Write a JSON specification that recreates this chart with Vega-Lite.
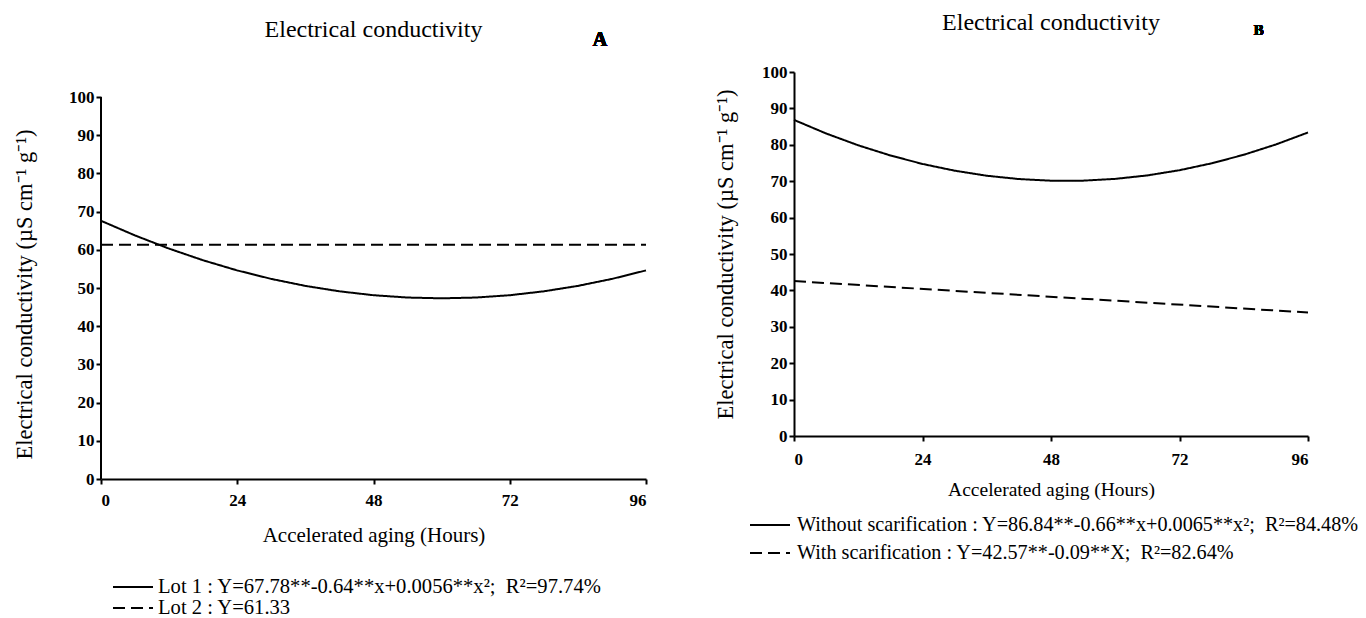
{
  "$schema": "https://vega.github.io/schema/vega-lite/v6.json",
  "padding": {"left": 13, "top": 11, "right": 3, "bottom": 0},
  "spacing": 64,
  "background": "white",
  "resolve": {"scale": {"strokeDash": "independent"}, "legend": {"strokeDash": "independent"}},
  "config": {
    "font": "Liberation Serif",
    "view": {"stroke": null},
    "axis": {
      "domainColor": "black", "domainWidth": 2, "tickColor": "black", "tickWidth": 2, "tickSize": 5,
      "grid": false, "labelFont": "Liberation Serif", "labelFontWeight": "bold", "labelFontSize": 17,
      "labelColor": "black", "labelOverlap": false, "titleFont": "Liberation Serif", "titleFontWeight": "normal",
      "titleFontSize": 21, "titleColor": "black"
    },
    "title": {"font": "Liberation Serif", "fontWeight": "normal", "fontSize": 24, "color": "black", "anchor": "middle"},
    "legend": {
      "symbolType": "stroke", "symbolSize": 1600, "symbolStrokeWidth": 2, "symbolStrokeColor": "black",
      "labelFont": "Liberation Serif", "labelFontSize": 20.6, "labelColor": "black", "labelLimit": 1200,
      "labelOffset": 4, "direction": "vertical", "rowPadding": 0
    }
  },
  "hconcat": [
    {
      "width": 545, "height": 407,
      "title": {"text": "Electrical conductivity", "offset": 0, "dy": 12},
      "resolve": {"scale": {"strokeDash": "independent"}, "legend": {"strokeDash": "independent"}},
      "data": {"values": [
        {"h": 0, "ec": 67.6, "series": "Lot 1 : Y=67.78**-0.64**x+0.0056**x²; \u00a0R²=97.74%"},
        {"h": 6, "ec": 63.75, "series": "Lot 1 : Y=67.78**-0.64**x+0.0056**x²; \u00a0R²=97.74%"},
        {"h": 12, "ec": 60.3, "series": "Lot 1 : Y=67.78**-0.64**x+0.0056**x²; \u00a0R²=97.74%"},
        {"h": 18, "ec": 57.25, "series": "Lot 1 : Y=67.78**-0.64**x+0.0056**x²; \u00a0R²=97.74%"},
        {"h": 24, "ec": 54.6, "series": "Lot 1 : Y=67.78**-0.64**x+0.0056**x²; \u00a0R²=97.74%"},
        {"h": 30, "ec": 52.38, "series": "Lot 1 : Y=67.78**-0.64**x+0.0056**x²; \u00a0R²=97.74%"},
        {"h": 36, "ec": 50.55, "series": "Lot 1 : Y=67.78**-0.64**x+0.0056**x²; \u00a0R²=97.74%"},
        {"h": 42, "ec": 49.13, "series": "Lot 1 : Y=67.78**-0.64**x+0.0056**x²; \u00a0R²=97.74%"},
        {"h": 48, "ec": 48.11, "series": "Lot 1 : Y=67.78**-0.64**x+0.0056**x²; \u00a0R²=97.74%"},
        {"h": 54, "ec": 47.5, "series": "Lot 1 : Y=67.78**-0.64**x+0.0056**x²; \u00a0R²=97.74%"},
        {"h": 60, "ec": 47.3, "series": "Lot 1 : Y=67.78**-0.64**x+0.0056**x²; \u00a0R²=97.74%"},
        {"h": 66, "ec": 47.5, "series": "Lot 1 : Y=67.78**-0.64**x+0.0056**x²; \u00a0R²=97.74%"},
        {"h": 72, "ec": 48.11, "series": "Lot 1 : Y=67.78**-0.64**x+0.0056**x²; \u00a0R²=97.74%"},
        {"h": 78, "ec": 49.13, "series": "Lot 1 : Y=67.78**-0.64**x+0.0056**x²; \u00a0R²=97.74%"},
        {"h": 84, "ec": 50.55, "series": "Lot 1 : Y=67.78**-0.64**x+0.0056**x²; \u00a0R²=97.74%"},
        {"h": 90, "ec": 52.38, "series": "Lot 1 : Y=67.78**-0.64**x+0.0056**x²; \u00a0R²=97.74%"},
        {"h": 96, "ec": 54.6, "series": "Lot 1 : Y=67.78**-0.64**x+0.0056**x²; \u00a0R²=97.74%"},
        {"h": 0, "ec": 61.33, "series": "Lot 2 : Y=61.33"},
        {"h": 96, "ec": 61.33, "series": "Lot 2 : Y=61.33"}
      ]},
      "layer": [
        {
          "transform": [{"filter": {"field": "series", "equal": "Lot 1 : Y=67.78**-0.64**x+0.0056**x²; \u00a0R²=97.74%"}}],
          "mark": {"type": "line", "color": "black", "strokeWidth": 2},
          "encoding": {
            "x": {"field": "h", "type": "quantitative", "scale": {"domain": [0, 96], "nice": false},
              "axis": {"values": [0, 24, 48, 72, 96], "title": "Accelerated aging (Hours)", "labelPadding": 8, "titlePadding": 16}},
            "y": {"field": "ec", "type": "quantitative", "scale": {"domain": [0, 106.545], "nice": false},
              "axis": {"values": [0, 10, 20, 30, 40, 50, 60, 70, 80, 90, 100], "domain": false, "title": "Electrical conductivity (µS cm⁻¹ g⁻¹)", "titleFontSize": 22.5, "titlePadding": 32, "titleY": 222}},
            "strokeDash": {"field": "series", "type": "nominal",
              "scale": {"range": [[1, 0]]},
              "legend": {"orient": "none", "legendX": 11, "legendY": 494, "title": null}}
          }
        },
        {
          "transform": [{"filter": {"field": "series", "equal": "Lot 2 : Y=61.33"}}],
          "mark": {"type": "line", "color": "black", "strokeWidth": 2},
          "encoding": {
            "x": {"field": "h", "type": "quantitative"},
            "y": {"field": "ec", "type": "quantitative",
              "axis": {"values": [0, 10, 20, 30, 40, 50, 60, 70, 80, 90, 100], "domain": false, "title": "Electrical conductivity (µS cm⁻¹ g⁻¹)", "titleFontSize": 22.5, "titlePadding": 32, "titleY": 222}},
            "strokeDash": {"field": "series", "type": "nominal",
              "scale": {"range": [[12, 6]]},
              "legend": {"orient": "none", "legendX": 11, "legendY": 515, "title": null}}
          }
        },
        {
          "mark": {"type": "rule", "color": "black", "strokeWidth": 2},
          "encoding": {"x": {"datum": 0}, "y": {"datum": 0}, "y2": {"datum": 100}}
        },
        {
          "mark": {"type": "text", "text": "A", "fontWeight": "bold", "fontSize": 20, "font": "Liberation Serif", "color": "black"},
          "encoding": {"x": {"datum": 87.9}, "y": {"datum": 114.9}}
        }
      ]
    },
    {
      "width": 514, "height": 364,
      "title": {"text": "Electrical conductivity", "offset": 0, "dy": 12},
      "resolve": {"scale": {"strokeDash": "independent"}, "legend": {"strokeDash": "independent"}},
      "data": {"values": [
        {"h": 0, "ec": 86.84, "series": "Without scarification : Y=86.84**-0.66**x+0.0065**x²; \u00a0R²=84.48%"},
        {"h": 6, "ec": 83.11, "series": "Without scarification : Y=86.84**-0.66**x+0.0065**x²; \u00a0R²=84.48%"},
        {"h": 12, "ec": 79.86, "series": "Without scarification : Y=86.84**-0.66**x+0.0065**x²; \u00a0R²=84.48%"},
        {"h": 18, "ec": 77.07, "series": "Without scarification : Y=86.84**-0.66**x+0.0065**x²; \u00a0R²=84.48%"},
        {"h": 24, "ec": 74.74, "series": "Without scarification : Y=86.84**-0.66**x+0.0065**x²; \u00a0R²=84.48%"},
        {"h": 30, "ec": 72.89, "series": "Without scarification : Y=86.84**-0.66**x+0.0065**x²; \u00a0R²=84.48%"},
        {"h": 36, "ec": 71.5, "series": "Without scarification : Y=86.84**-0.66**x+0.0065**x²; \u00a0R²=84.48%"},
        {"h": 42, "ec": 70.59, "series": "Without scarification : Y=86.84**-0.66**x+0.0065**x²; \u00a0R²=84.48%"},
        {"h": 48, "ec": 70.14, "series": "Without scarification : Y=86.84**-0.66**x+0.0065**x²; \u00a0R²=84.48%"},
        {"h": 54, "ec": 70.15, "series": "Without scarification : Y=86.84**-0.66**x+0.0065**x²; \u00a0R²=84.48%"},
        {"h": 60, "ec": 70.64, "series": "Without scarification : Y=86.84**-0.66**x+0.0065**x²; \u00a0R²=84.48%"},
        {"h": 66, "ec": 71.59, "series": "Without scarification : Y=86.84**-0.66**x+0.0065**x²; \u00a0R²=84.48%"},
        {"h": 72, "ec": 73.02, "series": "Without scarification : Y=86.84**-0.66**x+0.0065**x²; \u00a0R²=84.48%"},
        {"h": 78, "ec": 74.91, "series": "Without scarification : Y=86.84**-0.66**x+0.0065**x²; \u00a0R²=84.48%"},
        {"h": 84, "ec": 77.26, "series": "Without scarification : Y=86.84**-0.66**x+0.0065**x²; \u00a0R²=84.48%"},
        {"h": 90, "ec": 80.09, "series": "Without scarification : Y=86.84**-0.66**x+0.0065**x²; \u00a0R²=84.48%"},
        {"h": 96, "ec": 83.38, "series": "Without scarification : Y=86.84**-0.66**x+0.0065**x²; \u00a0R²=84.48%"},
        {"h": 0, "ec": 42.57, "series": "With scarification : Y=42.57**-0.09**X; \u00a0R²=82.64%"},
        {"h": 96, "ec": 33.93, "series": "With scarification : Y=42.57**-0.09**X; \u00a0R²=82.64%"}
      ]},
      "layer": [
        {
          "transform": [{"filter": {"field": "series", "equal": "Without scarification : Y=86.84**-0.66**x+0.0065**x²; \u00a0R²=84.48%"}}],
          "mark": {"type": "line", "color": "black", "strokeWidth": 2},
          "encoding": {
            "x": {"field": "h", "type": "quantitative", "scale": {"domain": [0, 96], "nice": false},
              "axis": {"values": [0, 24, 48, 72, 96], "title": "Accelerated aging (Hours)", "titleFontSize": 19.5, "labelPadding": 10, "titlePadding": 13}},
            "y": {"field": "ec", "type": "quantitative", "scale": {"domain": [0, 100], "nice": false},
              "axis": {"values": [0, 10, 20, 30, 40, 50, 60, 70, 80, 90, 100], "title": "Electrical conductivity (µS cm⁻¹ g⁻¹)", "titleFontSize": 22.5, "titlePadding": 24}},
            "strokeDash": {"field": "series", "type": "nominal",
              "scale": {"range": [[1, 0]]},
              "legend": {"orient": "none", "legendX": -45, "legendY": 432, "title": null, "labelFontSize": 20.2, "labelOffset": 6}}
          }
        },
        {
          "transform": [{"filter": {"field": "series", "equal": "With scarification : Y=42.57**-0.09**X; \u00a0R²=82.64%"}}],
          "mark": {"type": "line", "color": "black", "strokeWidth": 2},
          "encoding": {
            "x": {"field": "h", "type": "quantitative"},
            "y": {"field": "ec", "type": "quantitative",
              "axis": {"values": [0, 10, 20, 30, 40, 50, 60, 70, 80, 90, 100], "title": "Electrical conductivity (µS cm⁻¹ g⁻¹)", "titleFontSize": 22.5, "titlePadding": 24}},
            "strokeDash": {"field": "series", "type": "nominal",
              "scale": {"range": [[12, 6]]},
              "legend": {"orient": "none", "legendX": -45, "legendY": 460, "title": null, "labelFontSize": 20.2, "labelOffset": 6}}
          }
        },
        {
          "mark": {"type": "text", "text": "B", "fontWeight": "bold", "fontSize": 15, "font": "Liberation Serif", "color": "black"},
          "encoding": {"x": {"datum": 86.8}, "y": {"datum": 111.5, "type": "quantitative", "axis": {"values": [0, 10, 20, 30, 40, 50, 60, 70, 80, 90, 100], "title": "Electrical conductivity (µS cm⁻¹ g⁻¹)", "titleFontSize": 22.5, "titlePadding": 24}}}
        }
      ]
    }
  ]
}
